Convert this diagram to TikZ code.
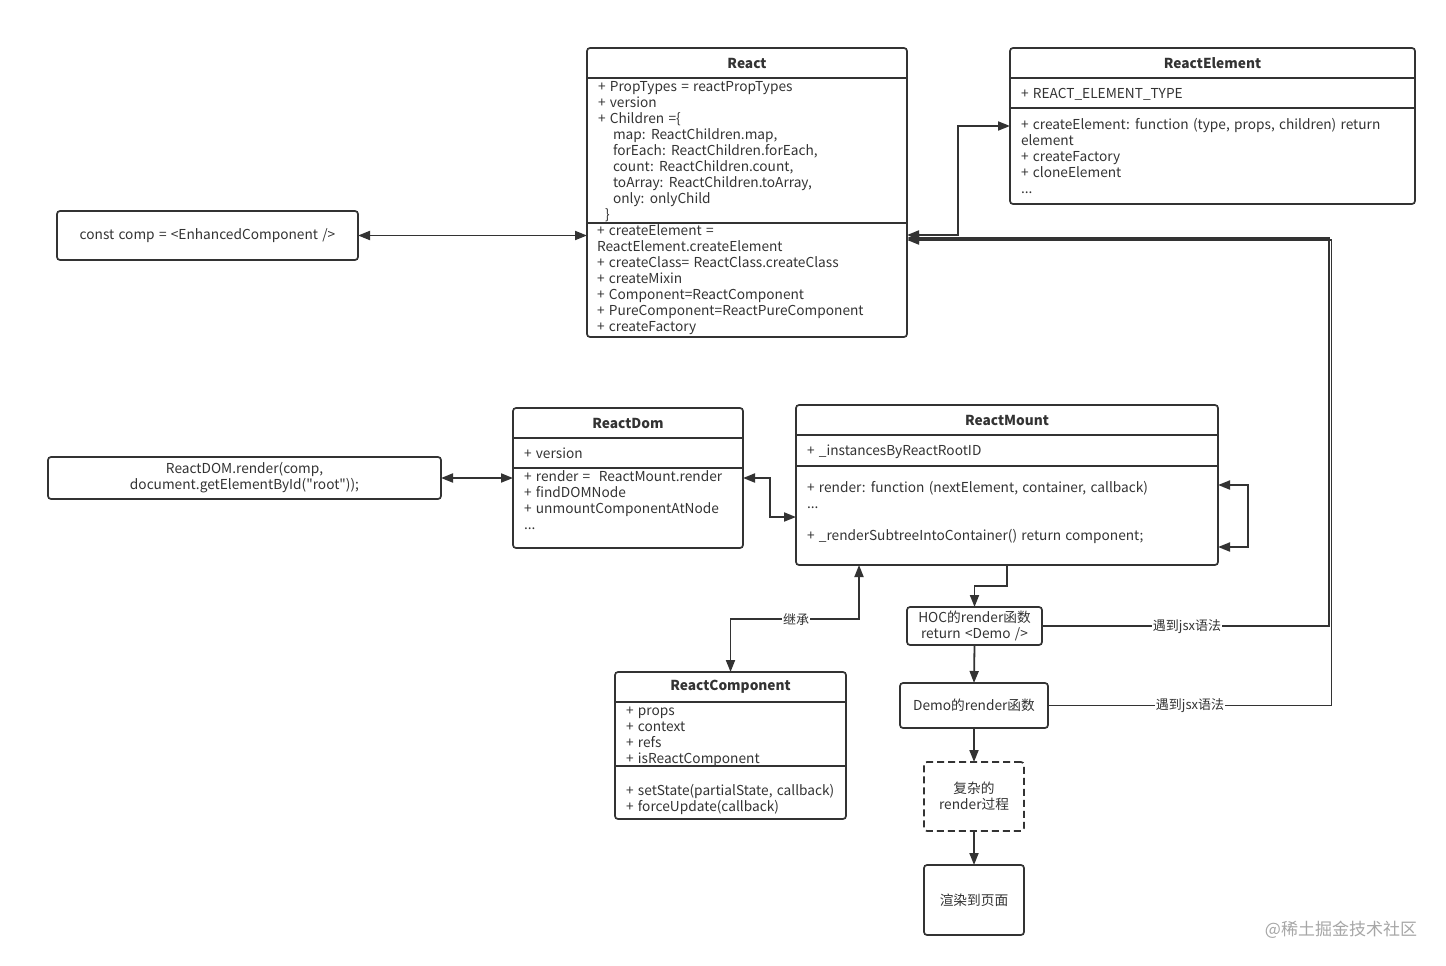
\documentclass[tikz,border=0pt]{standalone}
\usepackage{fontspec}
\setmainfont[WordSpace=1.4]{Noto Sans CJK SC}
\usepackage{xcolor}
\usepackage{tikz}
\usetikzlibrary{arrows.meta}
\definecolor{ink}{RGB}{51,51,51}

\begin{document}
\begin{tikzpicture}[x=1pt,y=-1pt,
  every node/.style={inner sep=0pt, outer sep=0pt, text=ink, font=\fontsize{13.7}{16}\selectfont},
  box/.style={draw=ink, line width=1.7pt, rounded corners=3pt, align=center},
  dashbox/.style={box, dash pattern=on 7pt off 4pt},
  sep/.style={draw=ink, line width=1.7pt},
  title/.style={font=\fontsize{13.7}{16}\selectfont\bfseries},
  member/.style={anchor=base west, align=left},
  lbl/.style={fill=white, inner sep=1pt, font=\fontsize{13}{15}\selectfont},
  arr/.style={draw=ink, line width=1.8pt, -{Triangle[length=12pt,width=9pt]}},
  dbl/.style={draw=ink, line width=1.8pt, {Triangle[length=12pt,width=9pt]}-{Triangle[length=12pt,width=9pt]}}]
\useasboundingbox (0,0) rectangle (1446,966);

% React
\node[box, minimum width=320, minimum height=289] (react) at (747,192.5) {};
\node[title] (reactT) at (747,63) {React};
\draw[sep] (react.west |- 0,78) -- (react.east |- 0,78);
\draw[sep] (react.west |- 0,223) -- (react.east |- 0,223);
\node[member] (reactA) at (598,219.5) {+ PropTypes = reactPropTypes\\+ version\\+ Children =\{\\\hspace*{15pt}map: ReactChildren.map,\\\hspace*{15pt}forEach: ReactChildren.forEach,\\\hspace*{15pt}count: ReactChildren.count,\\\hspace*{15pt}toArray: ReactChildren.toArray,\\\hspace*{15pt}only: onlyChild\\\hspace*{7pt}\}};
\node[member] (reactM) at (597,331.5) {+ createElement =\\ReactElement.createElement\\+ createClass= ReactClass.createClass\\+ createMixin\\+ Component=ReactComponent\\+ PureComponent=ReactPureComponent\\+ createFactory};

% ReactElement
\node[box, minimum width=405, minimum height=156] (elem) at (1212.5,126) {};
\node[title] (elemT) at (1212.5,63) {ReactElement};
\draw[sep] (elem.west |- 0,78) -- (elem.east |- 0,78);
\draw[sep] (elem.west |- 0,108) -- (elem.east |- 0,108);
\node[member] (elemA) at (1021,98.5) {+ REACT\_ELEMENT\_TYPE};
\node[member] (elemM) at (1021,193.5) {+ createElement: function (type, props, children) return\\element\\+ createFactory\\+ cloneElement\\...};

% left boxes
\node[box, minimum width=301, minimum height=49] (comp) at (207.5,235.5) {const comp = <EnhancedComponent />};
\node[box, minimum width=393, minimum height=42] (render) at (244.5,478) {ReactDOM.render(comp,\\document.getElementById(\textquotedbl root\textquotedbl));};

% ReactDom
\node[box, minimum width=230, minimum height=140] (dom) at (628,478) {};
\node[title] (domT) at (628,423) {ReactDom};
\draw[sep] (dom.west |- 0,438) -- (dom.east |- 0,438);
\draw[sep] (dom.west |- 0,468) -- (dom.east |- 0,468);
\node[member] (domA) at (524,458.5) {+ version};
\node[member] (domM) at (524,529.5) {+ render =\ \ ReactMount.render\\+ findDOMNode\\+ unmountComponentAtNode\\...};

% ReactMount
\node[box, minimum width=422, minimum height=160] (mount) at (1007,485) {};
\node[title] (mountT) at (1007,420) {ReactMount};
\draw[sep] (mount.west |- 0,435) -- (mount.east |- 0,435);
\draw[sep] (mount.west |- 0,466) -- (mount.east |- 0,466);
\node[member] (mountA) at (807,455.5) {+ \_instancesByReactRootID};
\node[member] (mountM) at (807,540.5) {+ render: function (nextElement, container, callback)\\...\\[16pt]+ \_renderSubtreeIntoContainer() return component;};

% ReactComponent
\node[box, minimum width=231, minimum height=147] (rc) at (730.5,745.5) {};
\node[title] (rcT) at (730.5,687) {ReactComponent};
\draw[sep] (rc.west |- 0,702) -- (rc.east |- 0,702);
\draw[sep] (rc.west |- 0,766) -- (rc.east |- 0,766);
\node[member] (rcA) at (626,763.5) {+ props\\+ context\\+ refs\\+ isReactComponent};
\node[member] (rcM) at (626,811.5) {+ setState(partialState, callback)\\+ forceUpdate(callback)};

% render flow
\node[box, minimum width=135, minimum height=38] (hoc) at (974.5,626) {HOC的render函数\\return <Demo />};
\node[box, minimum width=148, minimum height=45] (demo) at (974,705.5) {Demo的render函数};
\node[dashbox, minimum width=100, minimum height=69] (cplx) at (974,796.5) {复杂的\\render过程};
\node[box, minimum width=100, minimum height=70] (page) at (974,900) {渲染到页面};

% connectors
\coordinate (elemTurn) at (958,126);
\coordinate (domTurn) at (770,517);
\coordinate (loopTurn) at (1248,547);
\coordinate (hocTurn) at (974.5,586);
\coordinate (rcTurn) at (859,619);
\coordinate (hocUp) at (1329,238);
\coordinate (demoUp) at (1331.5,240);
\draw[dbl] (comp.east) -- (comp.east -| react.west);
\draw[dbl] (react.east |- 0,235) -| (elemTurn) -- (elemTurn -| elem.west);
\draw[dbl] (render.east) -- (render.east -| dom.west);
\draw[dbl] (dom.east |- 0,478) -| (domTurn) -- (domTurn -| mount.west);
\draw[dbl] (mount.east |- 0,485) -| (loopTurn) -- (loopTurn -| mount.east);
\draw[arr] (mount.south) |- (hocTurn) -- (hoc.north);
\draw[dbl] (rc.north) |- (rcTurn) -- (rcTurn |- mount.south);
\draw[arr] (hoc.east) -| (hocUp) -- (hocUp -| react.east);
\draw[arr] (demo.east) -| (demoUp) -- (demoUp -| react.east);
\draw[arr] (hoc.south) -- (demo.north);
\draw[arr] (demo.south) -- (cplx.north);
\draw[arr] (cplx.south) -- (page.north);

% labels on connectors
\node[lbl] (inherit) at (796,619) {继承};
\node[lbl] (jsxHoc) at (1187,627) {遇到jsx语法};
\node[lbl] (jsxDemo) at (1190,706) {遇到jsx语法};

\node[text=black!35, font=\fontsize{17}{20}\selectfont] (mark) at (1341,930) {@稀土掘金技术社区};
\end{tikzpicture}
\end{document}
